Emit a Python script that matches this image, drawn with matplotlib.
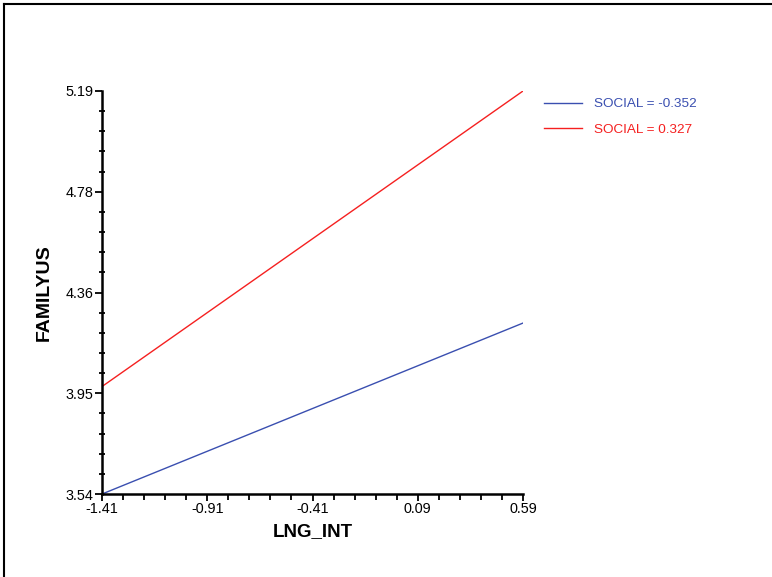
import numpy as np
import matplotlib.pyplot as plt
from matplotlib.ticker import AutoMinorLocator
from matplotlib.lines import Line2D

plt.rcParams['font.family'] = ['Liberation Sans', 'DejaVu Sans']

# data
lng_int = [-1.41, 0.59]
social_low = [3.54, 4.24]
social_high = [3.98, 5.19]
series_labels = ["SOCIAL = -0.352", "SOCIAL = 0.327"]
x_tick_labels = ["-1.41", "-0.91", "-0.41", "0.09", "0.59"]
y_tick_labels = ["3.54", "3.95", "4.36", "4.78", "5.19"]

blue = '#3a4fb0'
red = '#f52020'

fig = plt.figure(figsize=(7.72, 5.77), dpi=100)
ax = fig.add_axes([0.1321, 0.1438, 0.5454, 0.6985])

ax.plot(lng_int, social_low, color=blue, lw=1.0, label=series_labels[0])
ax.plot(lng_int, social_high, color=red, lw=1.0, label=series_labels[1])

xmin, xmax = -1.41, 0.59
ymin, ymax = 3.54, 5.19
ax.set_xlim(xmin, xmax)
ax.set_ylim(ymin, ymax)
ax.set_xticks(np.linspace(xmin, xmax, len(x_tick_labels)))
ax.set_xticklabels(x_tick_labels)
ax.set_yticks(np.linspace(ymin, ymax, len(y_tick_labels)))
ax.set_yticklabels(y_tick_labels)
ax.xaxis.set_minor_locator(AutoMinorLocator(5))
ax.yaxis.set_minor_locator(AutoMinorLocator(5))

for s in ['top', 'right']:
    ax.spines[s].set_visible(False)
for s in ['left', 'bottom']:
    ax.spines[s].set_linewidth(1.8)

ax.tick_params(which='major', direction='out', length=5, width=1.3, labelsize=10.4, pad=1)
ax.tick_params(axis='y', which='minor', direction='inout', length=5, width=1.3)
ax.tick_params(axis='x', which='minor', direction='out', length=4, width=1.3)

ax.set_xlabel("LNG_INT", fontsize=13.5, fontweight='bold', labelpad=5)
ax.set_ylabel("FAMILYUS", fontsize=14, fontweight='bold', labelpad=9)

ax.legend(loc='upper left', bbox_to_anchor=(1.05, 0.983), frameon=False,
          fontsize=9.7, labelcolor='linecolor', handlelength=2.8,
          handletextpad=0.9, labelspacing=1.0, borderpad=0, borderaxespad=0)

# outer frame (top and left only)
fig.add_artist(Line2D([4 / 772, 1], [1 - 4 / 577, 1 - 4 / 577], color='black', lw=1.5,
                      transform=fig.transFigure))
fig.add_artist(Line2D([4 / 772, 4 / 772], [0, 1 - 4 / 577], color='black', lw=1.5,
                      transform=fig.transFigure))

fig.savefig("out.png", dpi=100)
